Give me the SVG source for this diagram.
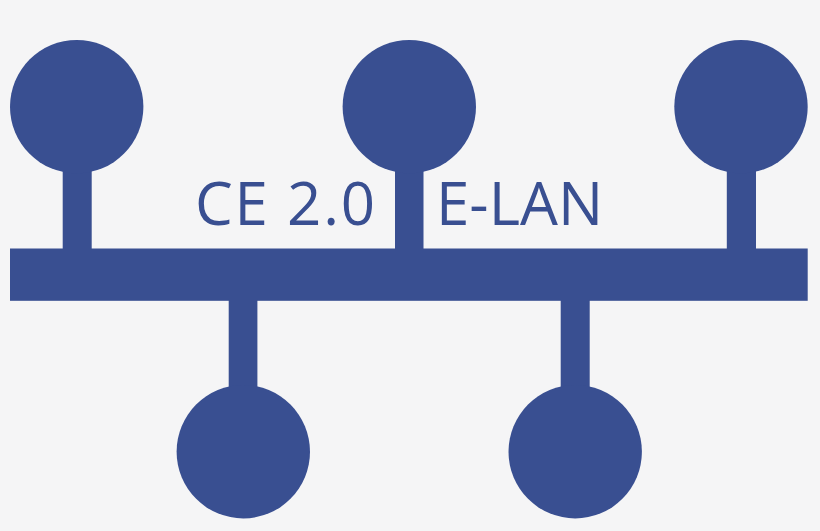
<svg xmlns="http://www.w3.org/2000/svg" width="820" height="531" viewBox="0 0 820 531">
<style>
.n{fill:#394f91}
.t{fill:#394f91;font-family:"Open Sans","Noto Sans",sans-serif;font-size:60px}
</style>
<rect x="0" y="0" width="820" height="531" fill="#f5f5f6"/>
<g id="connectors">
<rect id="bus" class="n" x="10" y="248.5" width="797.7" height="52.3"/>
<rect class="n" x="62.7" y="150" width="29" height="100"/>
<rect class="n" x="395" y="150" width="28.5" height="100"/>
<rect class="n" x="726.8" y="150" width="29.2" height="100"/>
<rect class="n" x="228.7" y="299" width="28.7" height="100"/>
<rect class="n" x="560.7" y="299" width="29" height="100"/>
</g>
<g id="node1"><circle class="n" cx="76.7" cy="106.7" r="66.7"/></g>
<g id="node2"><circle class="n" cx="409.3" cy="106.7" r="66.7"/></g>
<g id="node3"><circle class="n" cx="741" cy="106.7" r="66.7"/></g>
<g id="node4"><circle class="n" cx="243.3" cy="451.7" r="66.7"/></g>
<g id="node5"><circle class="n" cx="575.2" cy="451.7" r="66.7"/></g>
<g id="labels">
<text class="t" x="195" y="225" textLength="180" lengthAdjust="spacing">CE 2.0</text>
<text class="t" x="436" y="225">E-LAN</text>
</g>
</svg>
